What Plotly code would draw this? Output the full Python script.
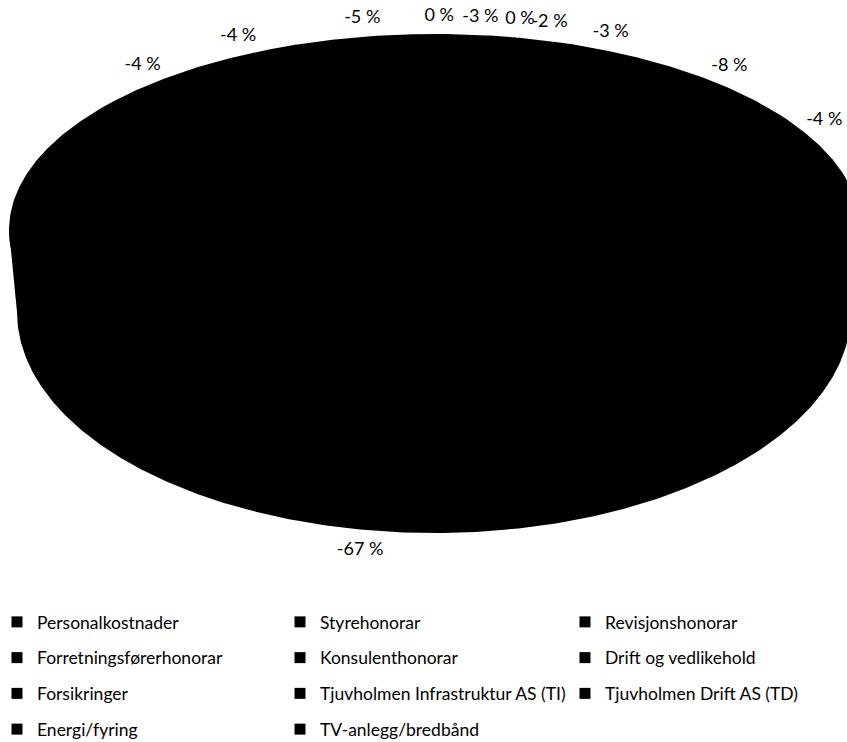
import numpy as np
import plotly.graph_objects as go

# ---------------- data ----------------
categories = [
    "Personalkostnader", "Styrehonorar", "Revisjonshonorar",
    "Forretningsførerhonorar", "Konsulenthonorar", "Drift og vedlikehold",
    "Forsikringer", "Tjuvholmen Infrastruktur AS (TI)", "Tjuvholmen Drift AS (TD)",
    "Energi/fyring", "TV-anlegg/bredbånd",
]
values = [-0.3, -2.7, -0.2, -2.0, -2.7, -7.6, -3.7, -67.1, -4.2, -4.2, -5.3]  # % of total
legend_columns = ["legend", "legend2", "legend3"]

# ---------------- geometry of the tilted 3-D pie ----------------
W, H = 847, 742
TOP = dict(cx=435, cy=230, a=425, b=195)   # top face
BOT = dict(cx=434, cy=312, a=416, b=220)   # bottom rim (side wall)
FONT = "Lato, 'Open Sans', sans-serif"
LABEL_FS = 18
LEGEND_FS = 17.5


def ell(e, t):
    t = np.radians(np.asarray(t, dtype=float))
    return e["cx"] + e["a"] * np.sin(t), e["cy"] - e["b"] * np.cos(t)


mag = np.abs(np.array(values, dtype=float))
share = mag / mag.sum()
ends = np.cumsum(share) * 360.0
starts = ends - share * 360.0
mids = (starts + ends) / 2.0

fig = go.Figure()

for i, cat in enumerate(categories):
    t0, t1 = starts[i], ends[i]
    n = max(int((t1 - t0) / 0.5) + 2, 3)
    ts = np.linspace(t0, t1, n)
    ax, ay = ell(TOP, ts)
    xs = [TOP["cx"]] + list(ax) + [TOP["cx"]]
    ys = [TOP["cy"]] + list(ay) + [TOP["cy"]]
    # visible part of the side wall (front half of the pie)
    w0, w1 = max(t0, 90.0), min(t1, 270.0)
    if w1 > w0:
        m = max(int((w1 - w0) / 0.5) + 2, 3)
        ws = np.linspace(w0, w1, m)
        tx, ty = ell(TOP, ws)
        bx, by = ell(BOT, ws[::-1])
        xs += [None] + list(tx) + list(bx) + [tx[0]]
        ys += [None] + list(ty) + list(by) + [ty[0]]
    fig.add_trace(go.Scatter(
        x=xs, y=ys, mode="lines", fill="toself", fillcolor="black",
        line=dict(color="black", width=2), name=cat, legendgroup=cat,
        showlegend=False, hoverinfo="name",
    ))

# data labels
lab_x, lab_y, lab_t = [], [], []
for i in range(len(categories)):
    t = mids[i]
    s, c = np.sin(np.radians(t)), np.cos(np.radians(t))
    if c >= 0:
        ex, ey = ell(TOP, t)
        ey = float(ey) - 19
    else:
        ex, ey = ell(BOT, t)
        ey = float(ey) + 22
    lab_x.append(float(ex) + 14 * s)
    lab_y.append(ey)
    pct = round(np.sign(values[i]) * share[i] * 100)
    lab_t.append(f"{int(pct)} %")

fig.add_trace(go.Scatter(
    x=lab_x, y=lab_y, mode="text", text=lab_t, textposition="middle center",
    textfont=dict(family=FONT, size=LABEL_FS, color="black"),
    showlegend=False, hoverinfo="skip",
))

# legend entries
for i, cat in enumerate(categories):
    fig.add_trace(go.Scatter(
        x=[None], y=[None], mode="markers",
        marker=dict(symbol="square", size=11, color="black"),
        name=cat, legendgroup=cat, legend=legend_columns[i % 3], showlegend=True,
    ))

leg_common = dict(
    xanchor="left", yanchor="top", y=1 - 604 / H, orientation="v",
    traceorder="grouped", tracegroupgap=10, bgcolor="rgba(0,0,0,0)",
    font=dict(family=FONT, size=LEGEND_FS, color="black"), itemsizing="trace",
)

fig.update_layout(
    width=W, height=H, margin=dict(l=0, r=0, t=0, b=0, autoexpand=False),
    paper_bgcolor="white", plot_bgcolor="white",
    xaxis=dict(range=[0, W], visible=False, fixedrange=True),
    yaxis=dict(range=[H, 0], visible=False, fixedrange=True),
    legend=dict(x=-3 / W, **leg_common),
    legend2=dict(x=280 / W, **leg_common),
    legend3=dict(x=565 / W, **leg_common),
    showlegend=True,
)

fig.write_html("out.html")
